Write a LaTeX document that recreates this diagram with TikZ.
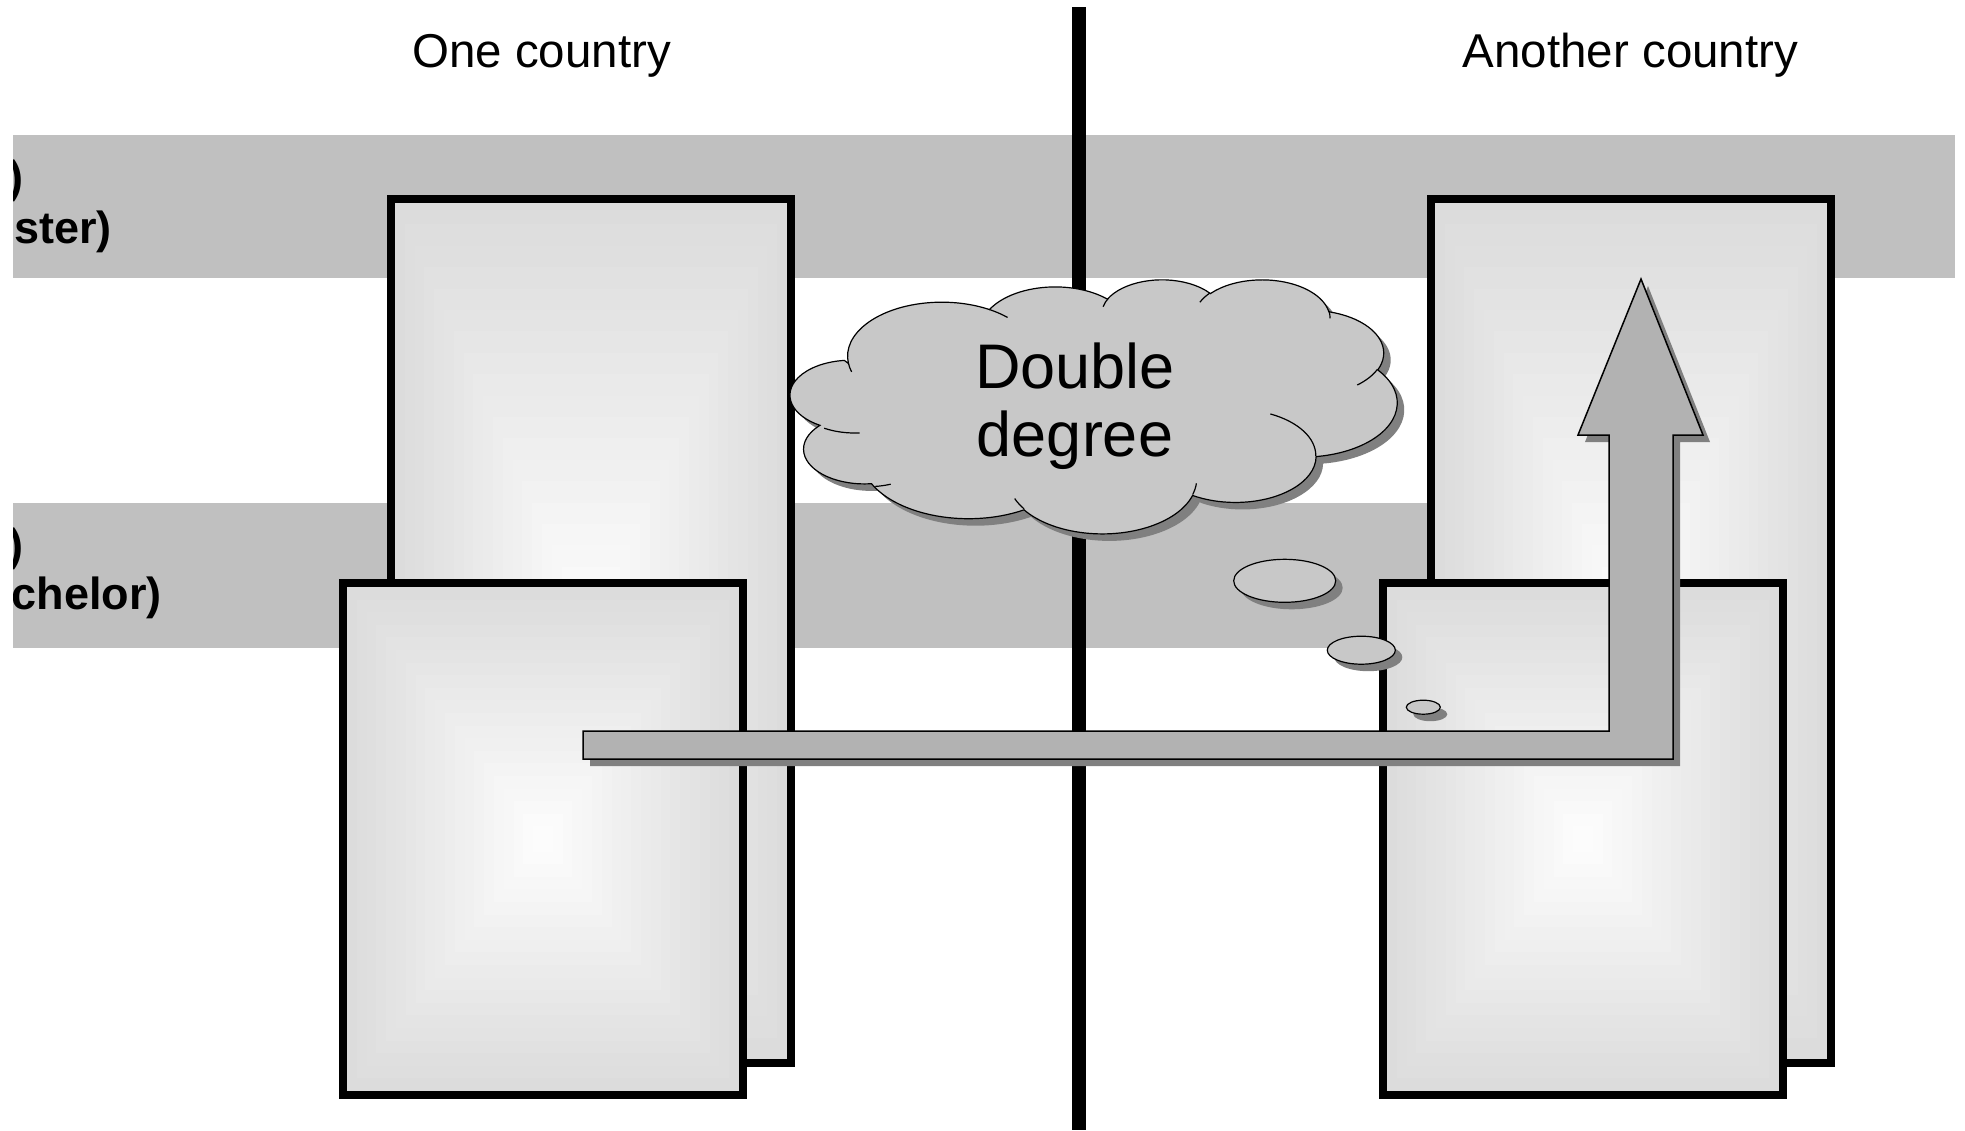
\documentclass[tikz,border=0pt]{standalone}
\usepackage{fontspec}
\setmainfont{Liberation Sans}
\definecolor{bandgray}{RGB}{192,192,192}
\definecolor{cloudgray}{RGB}{200,200,200}
\definecolor{arrowgray}{RGB}{178,178,178}
\definecolor{shadowgray}{RGB}{128,128,128}
\tikzset{
  boxnode/.style={rectangle, draw=black, line width=8pt, minimum width=400pt, inner sep=0pt, outer sep=0pt},
  lbl/.style={inner sep=0pt, anchor=base, font=\fontsize{47.5}{57}\selectfont},
  bandlbl/.style={inner sep=0pt, anchor=base east, font=\bfseries\fontsize{45}{50}\selectfont},
  cloudlbl/.style={inner sep=0pt, anchor=base, font=\fontsize{63}{68}\selectfont},
  thinoutline/.style={draw=black, line width=1.2pt},
  cloudunits/.style={x=0.139583pt, y=-0.058796pt},
}
% visual-angle arc (DrawingML arcTo) -> parametric arc
\newcommand\cldarc[4]{%
  \pgfmathsetmacro\cldS{atan2((#1)*sin(#3),(#2)*cos(#3))}%
  \pgfmathsetmacro\cldE{atan2((#1)*sin((#3)+(#4)),(#2)*cos((#3)+(#4)))}%
  \pgfmathsetmacro\cldD{mod(\cldE-\cldS+720,360)}%
}
\newcommand\CA[4]{\pgfextra{\cldarc{#1}{#2}{#3}{#4}} arc[start angle=\cldS, delta angle=\cldD, x radius=#1, y radius=#2]}
\newcommand\cloudpath{(390,1437)
  \CA{675.3}{919.0}{-190.4875}{123.7805}
  \CA{533.3}{726.7}{-144.1024}{89.9452}
  \CA{436.5}{594.5}{-145.8079}{99.7230}
  \CA{485.7}{659.5}{-130.9861}{117.2417}
  \CA{533.3}{727.3}{-78.7089}{109.0269}
  \CA{677.5}{922.0}{-46.2673}{130.2690}
  \CA{578.5}{786.7}{0.6250}{114.0333}
  \CA{675.2}{921.5}{22.4516}{115.1726}
  \CA{772.0}{1054.3}{66.2426}{80.3573}
  \CA{436.0}{591.8}{-274.9421}{146.7356}
  \CA{434.5}{594.5}{-246.8285}{152.5189}
  -- cycle}
\newcommand\cloudinner{%
  (469.3,2617.7) \CA{434.5}{594.5}{86.742}{26.4295}
  (692.8,3489.9) \CA{436.0}{591.8}{73.6105}{11.4475}
  (1647.8,3909.0) \CA{675.2}{921.5}{137.6242}{14.0811}
  (2882.7,3475.1) \CA{675.2}{921.5}{6.4533}{15.9984}
  (3412.9,2295.4) \CA{578.5}{786.7}{-70.2924}{70.9174}
  (4179.8,1535.4) \CA{533.3}{727.3}{30.3180}{27.7515}
  (3832.4,542.6) \CA{485.7}{659.5}{-13.7443}{14.8589}
  (2907.8,395.2) \CA{485.7}{659.5}{-149.1815}{18.1954}
  (2214.1,472.0) \CA{436.5}{594.5}{-163.4943}{19.0034}
  (1400.0,519.2) \CA{675.3}{919.0}{-66.7070}{12.3194}
  (412.7,1578.9) \CA{675.3}{919.0}{157.6544}{11.8582}}
\newcommand\gradbox[4]{% cx cy half-width half-height (inside the border)
  \foreach \i in {0,...,19}{%
    \pgfmathsetmacro\gf{1-\i/20}%
    \pgfmathsetmacro\gp{13.7-12.7*\i/19}%
    \fill[black!\gp] ({#1-\gf*#3},{#2-\gf*#4}) rectangle ({#1+\gf*#3},{#2+\gf*#4});
  }%
}
\newcommand\arrowpath{(583,731) -- (1609,731) -- (1609,435) -- (1578,435) -- (1641,279) -- (1703,435) -- (1673,435) -- (1673,759) -- (583,759) -- cycle}
\begin{document}
\begin{tikzpicture}[x=1pt,y=-1pt]
\fill[white] (0,0) rectangle (1965,1130);
\useasboundingbox (0,0) rectangle (1965,1130);
% level bands
\fill[bandgray] (13,135) rectangle (1955,278);
\fill[bandgray] (13,503) rectangle (1600,648);
\begin{scope}
  \clip (13,0) rectangle (1965,1130);
  \node[bandlbl] (mtop) at (24,192) {)};
  \node[bandlbl] (mbot) at (112,243) {ster)};
  \node[bandlbl] (btop) at (24,560) {)};
  \node[bandlbl] (bbot) at (162,609) {chelor)};
\end{scope}
% headings
\node[lbl] (one) at (541.5,67) {One country};
\node[lbl] (another) at (1630.5,67) {Another country};
% border line
\fill[black] (1071.5,6.5) rectangle (1085.5,1130);
% left boxes
\gradbox{591}{631}{196}{428}
\node[boxnode, minimum height=864pt] (lback) at (591,631) {};
\gradbox{543}{839}{196}{252}
\node[boxnode, minimum height=512pt] (lfront) at (543,839) {};
% right boxes
\gradbox{1631}{631}{196}{428}
\node[boxnode, minimum height=864pt] (rback) at (1631,631) {};
\gradbox{1583}{839}{196}{252}
\node[boxnode, minimum height=512pt] (rfront) at (1583,839) {};
% cloud shadow and callout shadows
\begin{scope}[shift={(801,286)}, cloudunits]
  \fill[shadowgray] \cloudpath;
\end{scope}
\fill[shadowgray] (1291.7,587.8) ellipse [x radius=51, y radius=21.5];
\fill[shadowgray] (1368.3,657.2) ellipse [x radius=34, y radius=14];
\fill[shadowgray] (1430.3,714.2) ellipse [x radius=17, y radius=7];
% cloud
\begin{scope}[shift={(794,279)}, cloudunits]
  \path[thinoutline, fill=cloudgray] \cloudpath;
  \draw[line width=1.2pt] \cloudinner;
\end{scope}
\path[thinoutline, fill=cloudgray] (1284.7,580.8) ellipse [x radius=51, y radius=21.5];
\path[thinoutline, fill=cloudgray] (1361.3,650.2) ellipse [x radius=34, y radius=14];
\path[thinoutline, fill=cloudgray] (1423.3,707.2) ellipse [x radius=17, y radius=7];
\node[cloudlbl] (dd1) at (1075,388) {Double};
\node[cloudlbl] (dd2) at (1075,456) {degree};
% arrow
\fill[shadowgray, shift={(7,7)}] \arrowpath;
\path[draw=black, line width=1.5pt, fill=arrowgray] \arrowpath;
\end{tikzpicture}
\end{document}
